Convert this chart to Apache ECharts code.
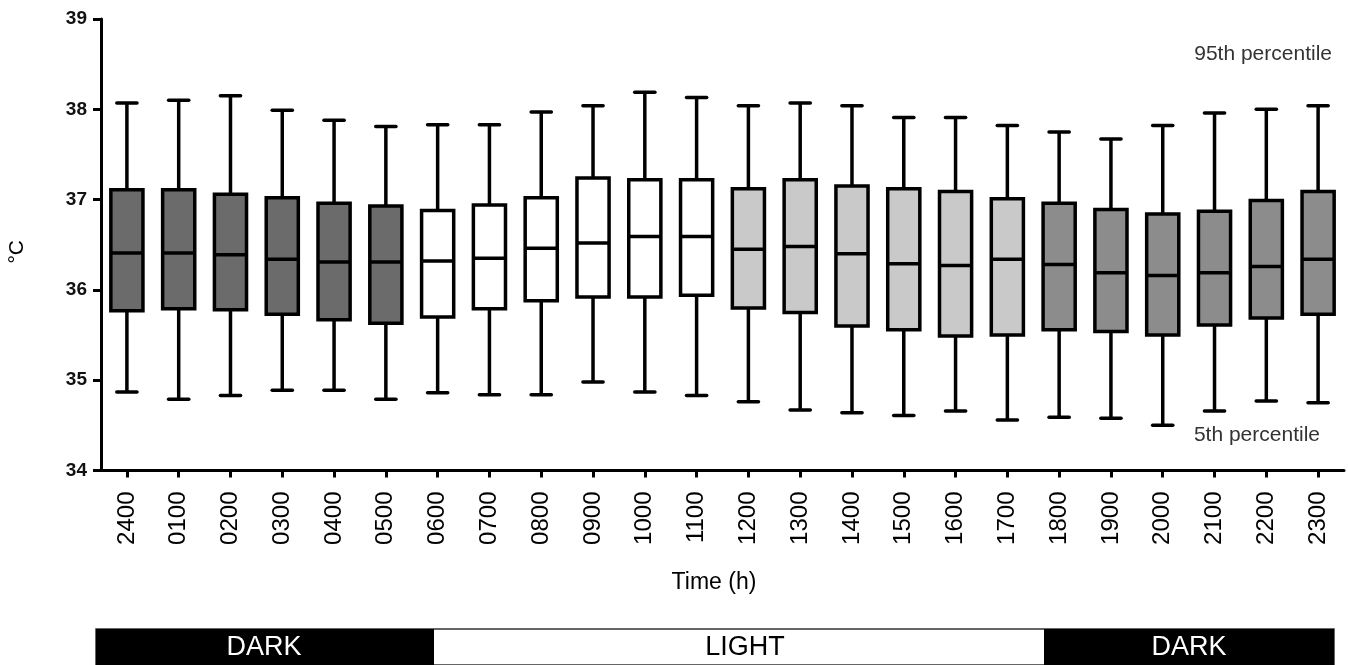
<!DOCTYPE html>
<html>
<head>
<meta charset="utf-8">
<script src="https://cdn.jsdelivr.net/npm/echarts@6/dist/echarts.min.js"></script>
<style>
html,body{margin:0;padding:0;background:#fff;}
#chart{width:1348px;height:665px;}
</style>
</head>
<body>
<div id="chart"></div>
<script>
// ---- data ----
const categories = ['2400','0100','0200','0300','0400','0500','0600','0700','0800','0900','1000','1100',
                    '1200','1300','1400','1500','1600','1700','1800','1900','2000','2100','2200','2300'];
const p5     = [34.87,34.79,34.83,34.89,34.89,34.79,34.86,34.84,34.84,34.98,34.87,34.83,
                34.76,34.67,34.64,34.61,34.66,34.56,34.59,34.58,34.50,34.66,34.77,34.75];
const q1     = [35.77,35.79,35.78,35.73,35.67,35.63,35.70,35.79,35.88,35.92,35.92,35.94,
                35.80,35.75,35.60,35.56,35.49,35.50,35.56,35.54,35.50,35.61,35.69,35.73];
const median = [36.41,36.41,36.39,36.34,36.31,36.31,36.32,36.35,36.46,36.52,36.59,36.59,
                36.45,36.48,36.40,36.29,36.27,36.34,36.28,36.19,36.16,36.19,36.26,36.34];
const q3     = [37.11,37.11,37.06,37.02,36.96,36.93,36.88,36.94,37.02,37.24,37.22,37.22,
                37.12,37.22,37.15,37.12,37.09,37.01,36.96,36.89,36.84,36.87,36.99,37.09];
const p95    = [38.07,38.10,38.15,37.99,37.88,37.81,37.83,37.83,37.97,38.04,38.19,38.13,
                38.04,38.07,38.04,37.91,37.91,37.82,37.75,37.67,37.82,37.96,38.00,38.04];
// period each hour belongs to (for box shading)
const period = ['night','night','night','night','night','night',
                'morning','morning','morning','morning','morning','morning',
                'afternoon','afternoon','afternoon','afternoon','afternoon','afternoon',
                'evening','evening','evening','evening','evening','evening'];
const yTicks = [34, 35, 36, 37, 38, 39];

// ---- styles ----
const fillByPeriod = {night:'#6b6b6b', morning:'#ffffff', afternoon:'#c9c9c9', evening:'#8c8c8c'};
const FONT = '"Liberation Sans", Arial, sans-serif';

const rows = categories.map((c, i) => [i, p5[i], q1[i], median[i], q3[i], p95[i]]);

const chart = echarts.init(document.getElementById('chart'), null, {renderer:'canvas'});

const LW = 3.5;
function renderItem(params, api) {
  const i = api.value(0);
  const band = api.size([1, 0])[0];
  const boxW = band * 0.62;
  const capW = band * 0.39;
  const x = api.coord([i, 0])[0];
  const yLo = api.coord([i, api.value(1)])[1];
  const yQ1 = api.coord([i, api.value(2)])[1];
  const yMed = api.coord([i, api.value(3)])[1];
  const yQ3 = api.coord([i, api.value(4)])[1];
  const yHi = api.coord([i, api.value(5)])[1];
  const fill = fillByPeriod[period[i]];
  const ls = {stroke:'#000', lineWidth:LW};
  return {
    type:'group',
    children:[
      {type:'line', shape:{x1:x, y1:yQ3, x2:x, y2:yHi}, style:ls},
      {type:'line', shape:{x1:x, y1:yQ1, x2:x, y2:yLo}, style:ls},
      {type:'line', shape:{x1:x-capW/2, y1:yHi, x2:x+capW/2, y2:yHi}, style:Object.assign({lineCap:'round'}, ls)},
      {type:'line', shape:{x1:x-capW/2, y1:yLo, x2:x+capW/2, y2:yLo}, style:Object.assign({lineCap:'round'}, ls)},
      {type:'rect', shape:{x:x-boxW/2, y:yQ3, width:boxW, height:yQ1-yQ3},
        style:{fill:fill, stroke:'#000', lineWidth:LW}},
      {type:'line', shape:{x1:x-boxW/2, y1:yMed, x2:x+boxW/2, y2:yMed}, style:ls}
    ]
  };
}

const option = {
  backgroundColor:'#fff',
  animation:false,
  textStyle:{fontFamily:FONT},
  grid:{left:101, right:4, top:19, bottom:194.5, containLabel:false, outerBoundsMode:'none'},
  xAxis:{
    type:'category',
    data:categories,
    boundaryGap:true,
    name:'Time (h)',
    nameLocation:'middle',
    nameGap:101,
    nameTextStyle:{fontSize:23, color:'#000', fontFamily:FONT, padding:[0,17,0,0]},
    axisLine:{show:true, lineStyle:{color:'#000', width:3}},
    axisTick:{show:true, alignWithLabel:true, length:7, lineStyle:{color:'#000', width:3}},
    axisLabel:{rotate:90, fontSize:24, color:'#000', margin:21, fontFamily:FONT, interval:0},
    splitLine:{show:false}
  },
  yAxis:{
    type:'value',
    min:yTicks[0], max:yTicks[yTicks.length-1], interval:1,
    name:'°C',
    nameLocation:'middle',
    nameRotate:90,
    nameGap:73,
    nameTextStyle:{fontSize:21, color:'#000', fontFamily:FONT, padding:[0,14,0,0]},
    axisLine:{show:true, lineStyle:{color:'#000', width:3}},
    axisTick:{show:true, length:8, lineStyle:{color:'#000', width:3}},
    axisLabel:{fontSize:19, fontWeight:'bold', color:'#111', margin:14, fontFamily:FONT},
    splitLine:{show:false}
  },
  series:[{
    type:'custom',
    renderItem:renderItem,
    encode:{x:0, y:[1,2,3,4,5]},
    data:rows,
    clip:false
  }],
  graphic:[
    {type:'text', right:16, top:44, style:{text:'95th percentile', fontSize:21, fill:'#333', fontFamily:FONT}},
    {type:'text', right:28, top:425, style:{text:'5th percentile', fontSize:21, fill:'#333', fontFamily:FONT}},
    // light/dark bar
    {type:'rect', shape:{x:96, y:629, width:1238, height:36}, style:{fill:'#fff', stroke:'#333', lineWidth:1.5}},
    {type:'rect', shape:{x:96, y:629, width:338, height:36}, style:{fill:'#000'}},
    {type:'rect', shape:{x:1044, y:629, width:290, height:36}, style:{fill:'#000'}},
    {type:'text', x:264, y:648, style:{text:'DARK', fontSize:27, fill:'#fff', fontFamily:FONT, align:'center', verticalAlign:'middle'}},
    {type:'text', x:745, y:648, style:{text:'LIGHT', fontSize:27, fill:'#000', fontFamily:FONT, align:'center', verticalAlign:'middle'}},
    {type:'text', x:1189, y:648, style:{text:'DARK', fontSize:27, fill:'#fff', fontFamily:FONT, align:'center', verticalAlign:'middle'}}
  ]
};
chart.setOption(option);
</script>
</body>
</html>
